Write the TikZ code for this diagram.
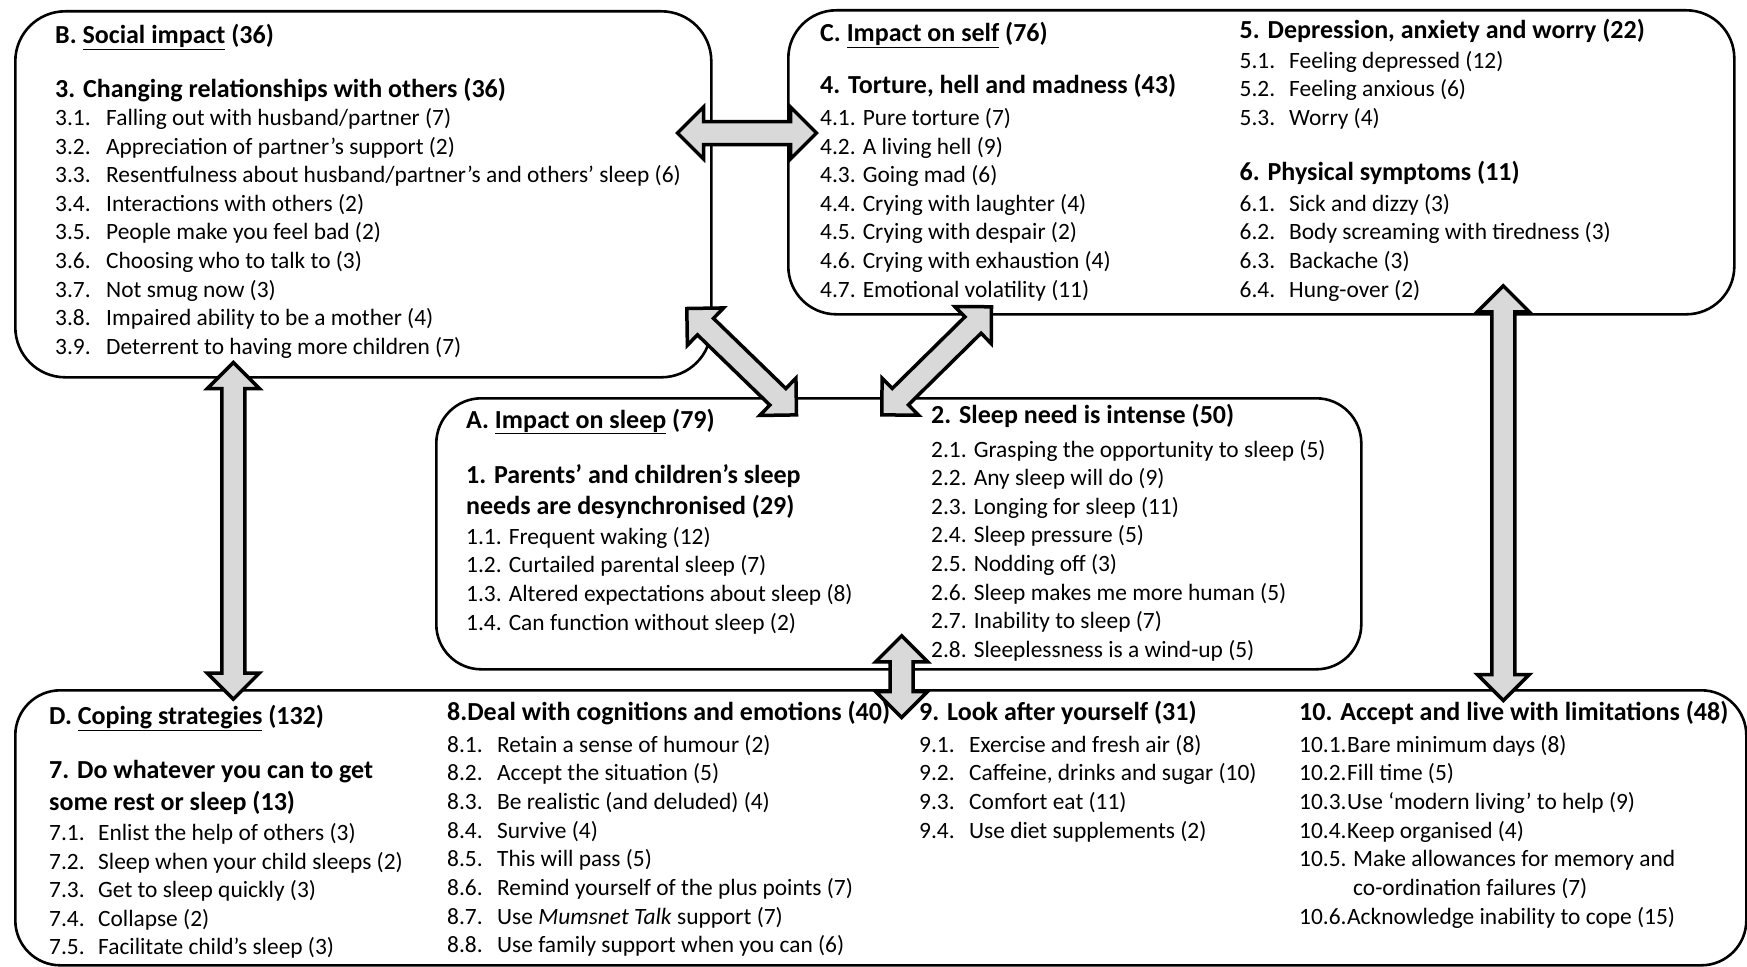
\documentclass[tikz,border=0pt]{standalone}
\usepackage{fontspec}
\setmainfont{Carlito}
\usetikzlibrary{calc}
\definecolor{arrowgray}{HTML}{D9D9D9}
\newcommand{\nm}[2]{\makebox[#1pt][l]{#2}}
\tikzset{
  box/.style={draw=black, line width=2.6pt, rounded corners=#1, inner sep=0pt, anchor=north west},
  box/.default=45pt,
  it/.style={anchor=base west, inner sep=0pt, font=\fontsize{23.4}{28}\selectfont},
  hd/.style={anchor=base west, inner sep=0pt, font=\fontsize{26}{30}\selectfont\bfseries},
  blk/.style={draw=black, fill=arrowgray, line width=3.5pt, line join=miter, miter limit=10}
}
\newcommand{\blockarrow}[2]{%
  \path[blk] let \p1=(#1), \p2=(#2), \n1={atan2(\y2-\y1,\x2-\x1)}, \n2={veclen(\x2-\x1,\y2-\y1)} in
  [shift={(\p1)}, rotate=\n1]
  (0pt,0pt) -- (26pt,26pt) -- (26pt,11.5pt) -- ({\n2*1pt-26pt},11.5pt) -- ({\n2*1pt-26pt},26pt) -- ({\n2*1pt},0pt)
  -- ({\n2*1pt-26pt},-26pt) -- ({\n2*1pt-26pt},-11.5pt) -- (26pt,-11.5pt) -- (26pt,-26pt) -- cycle;}
\begin{document}
\begin{tikzpicture}[x=1pt,y=-1pt]
\useasboundingbox (0,0) rectangle (1747,966);
% boxes
\node[box=50pt, minimum width=696pt, minimum height=366pt] (B) at (14,10) {};
\node[box=48pt, minimum width=946pt, minimum height=304pt] (C) at (787,9) {};
\node[box=45pt, minimum width=925pt, minimum height=271pt] (A) at (435,397) {};
\node[box=45pt, minimum width=1731pt, minimum height=275pt] (D) at (14,689) {};
% B text
\node[hd] (b0) at (55,44) {B. \underline{Social impact} (36)};
\node[hd] (b3) at (55,97) {3. Changing relationships with others (36)};
\node[it] (b31) at (55,125.5) {\nm{51}{3.1.}Falling out with husband/partner (7)};
\node[it] (b32) at (55,154.1) {\nm{51}{3.2.}Appreciation of partner’s support (2)};
\node[it] (b33) at (55,182.7) {\nm{51}{3.3.}Resentfulness about husband/partner’s and others’ sleep (6)};
\node[it] (b34) at (55,211.3) {\nm{51}{3.4.}Interactions with others (2)};
\node[it] (b35) at (55,239.9) {\nm{51}{3.5.}People make you feel bad (2)};
\node[it] (b36) at (55,268.5) {\nm{51}{3.6.}Choosing who to talk to (3)};
\node[it] (b37) at (55,297.1) {\nm{51}{3.7.}Not smug now (3)};
\node[it] (b38) at (55,325.7) {\nm{51}{3.8.}Impaired ability to be a mother (4)};
\node[it] (b39) at (55,354.3) {\nm{51}{3.9.}Deterrent to having more children (7)};
% C text
\node[hd] (c0) at (820,42) {C. \underline{Impact on self} (76)};
\node[hd] (c4) at (820,93) {4. Torture, hell and madness (43)};
\node[it] (c41) at (820,125.5) {4.1. Pure torture (7)};
\node[it] (c42) at (820,154.1) {4.2. A living hell (9)};
\node[it] (c43) at (820,182.7) {4.3. Going mad (6)};
\node[it] (c44) at (820,211.3) {4.4. Crying with laughter (4)};
\node[it] (c45) at (820,239.9) {4.5. Crying with despair (2)};
\node[it] (c46) at (820,268.5) {4.6. Crying with exhaustion (4)};
\node[it] (c47) at (820,297.1) {4.7. Emotional volatility (11)};
\node[hd] (c5) at (1239.5,38) {5. Depression, anxiety and worry (22)};
\node[it] (c51) at (1239.5,68.3) {\nm{49.5}{5.1.}Feeling depressed (12)};
\node[it] (c52) at (1239.5,96.9) {\nm{49.5}{5.2.}Feeling anxious (6)};
\node[it] (c53) at (1239.5,125.5) {\nm{49.5}{5.3.}Worry (4)};
\node[hd] (c6) at (1239.5,180) {6. Physical symptoms (11)};
\node[it] (c61) at (1239.5,211.3) {\nm{49.5}{6.1.}Sick and dizzy (3)};
\node[it] (c62) at (1239.5,239.9) {\nm{49.5}{6.2.}Body screaming with tiredness (3)};
\node[it] (c63) at (1239.5,268.5) {\nm{49.5}{6.3.}Backache (3)};
\node[it] (c64) at (1239.5,297.1) {\nm{49.5}{6.4.}Hung-over (2)};
% A text
\node[hd] (a0) at (466,428) {A. \underline{Impact on sleep} (79)};
\node[hd] (a1a) at (466,483) {1. Parents’ and children’s sleep};
\node[hd] (a1b) at (466,514) {needs are desynchronised (29)};
\node[it] (a11) at (466,544) {1.1. Frequent waking (12)};
\node[it] (a12) at (466,572.7) {1.2. Curtailed parental sleep (7)};
\node[it] (a13) at (466,601.4) {1.3. Altered expectations about sleep (8)};
\node[it] (a14) at (466,630.1) {1.4. Can function without sleep (2)};
\node[hd] (a2) at (931,423) {2. Sleep need is intense (50)};
\node[it] (a21) at (931,457) {2.1. Grasping the opportunity to sleep (5)};
\node[it] (a22) at (931,485.6) {2.2. Any sleep will do (9)};
\node[it] (a23) at (931,514.2) {2.3. Longing for sleep (11)};
\node[it] (a24) at (931,542.8) {2.4. Sleep pressure (5)};
\node[it] (a25) at (931,571.4) {2.5. Nodding off (3)};
\node[it] (a26) at (931,600) {2.6. Sleep makes me more human (5)};
\node[it] (a27) at (931,628.6) {2.7. Inability to sleep (7)};
\node[it] (a28) at (931,657.2) {2.8. Sleeplessness is a wind-up (5)};
% D text
\node[hd] (d0) at (49,724) {D. \underline{Coping strategies} (132)};
\node[hd] (d7a) at (49,778) {7. Do whatever you can to get};
\node[hd] (d7b) at (49,810) {some rest or sleep (13)};
\node[it] (d71) at (49,840.5) {\nm{49}{7.1.}Enlist the help of others (3)};
\node[it] (d72) at (49,869) {\nm{49}{7.2.}Sleep when your child sleeps (2)};
\node[it] (d73) at (49,897.5) {\nm{49}{7.3.}Get to sleep quickly (3)};
\node[it] (d74) at (49,926) {\nm{49}{7.4.}Collapse (2)};
\node[it] (d75) at (49,954.5) {\nm{49}{7.5.}Facilitate child’s sleep (3)};
\node[hd] (d8) at (447,720) {8.Deal with cognitions and emotions (40)};
\node[it] (d81) at (447,752) {\nm{50}{8.1.}Retain a sense of humour (2)};
\node[it] (d82) at (447,780.7) {\nm{50}{8.2.}Accept the situation (5)};
\node[it] (d83) at (447,809.4) {\nm{50}{8.3.}Be realistic (and deluded) (4)};
\node[it] (d84) at (447,838.1) {\nm{50}{8.4.}Survive (4)};
\node[it] (d85) at (447,866.8) {\nm{50}{8.5.}This will pass (5)};
\node[it] (d86) at (447,895.5) {\nm{50}{8.6.}Remind yourself of the plus points (7)};
\node[it] (d87) at (447,924.2) {\nm{50}{8.7.}Use \textit{Mumsnet Talk} support (7)};
\node[it] (d88) at (447,952.9) {\nm{50}{8.8.}Use family support when you can (6)};
\node[hd] (d9) at (919,720) {9. Look after yourself (31)};
\node[it] (d91) at (919,752) {\nm{50}{9.1.}Exercise and fresh air (8)};
\node[it] (d92) at (919,780.7) {\nm{50}{9.2.}Caffeine, drinks and sugar (10)};
\node[it] (d93) at (919,809.4) {\nm{50}{9.3.}Comfort eat (11)};
\node[it] (d94) at (919,838.1) {\nm{50}{9.4.}Use diet supplements (2)};
\node[hd] (d10) at (1299,720) {10. Accept and live with limitations (48)};
\node[it] (d101) at (1299,752) {\nm{48}{10.1.}Bare minimum days (8)};
\node[it] (d102) at (1299,780.7) {\nm{48}{10.2.}Fill time (5)};
\node[it] (d103) at (1299,809.4) {\nm{48}{10.3.}Use ‘modern living’ to help (9)};
\node[it] (d104) at (1299,838.1) {\nm{48}{10.4.}Keep organised (4)};
\node[it] (d105) at (1299,866.8) {\nm{54}{10.5.}Make allowances for memory and};
\node[it] (d105b) at (1353,895.5) {co-ordination failures (7)};
\node[it] (d106) at (1299,924.2) {\nm{48}{10.6.}Acknowledge inability to cope (15)};
% arrow end points
\coordinate (bcL) at (677.5,133);
\coordinate (bcR) at (816.5,133);
\coordinate (baB) at (686.8,308.5);
\coordinate (baA) at (796.5,414.9);
\coordinate (caC) at (991.5,306.8);
\coordinate (caA) at (881.8,414.9);
\coordinate (bdB) at (233.3,362.5);
\coordinate (bdD) at (233.3,699.2);
\coordinate (cdC) at (1503.3,285.8);
\coordinate (cdD) at (1503.3,700.5);
\coordinate (adA) at (901.7,635.8);
\coordinate (adD) at (901.7,717.5);
\blockarrow{bcL}{bcR}
\blockarrow{baB}{baA}
\blockarrow{caC}{caA}
\blockarrow{bdB}{bdD}
\blockarrow{cdC}{cdD}
\blockarrow{adA}{adD}
\end{tikzpicture}
\end{document}
